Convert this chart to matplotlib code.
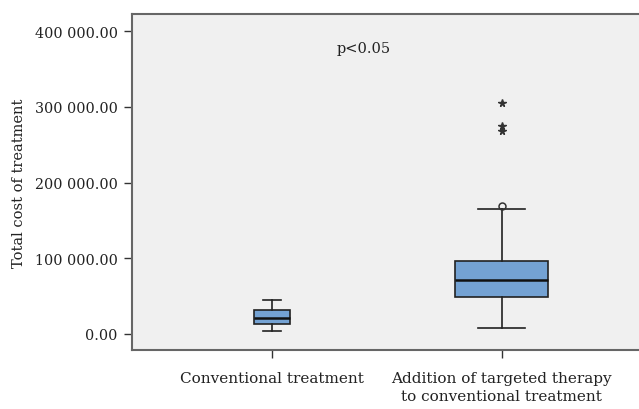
import matplotlib
matplotlib.use("Agg")
import matplotlib.pyplot as plt

# group labels and box statistics
groups = ["Conventional treatment", "Addition of targeted therapy\nto conventional treatment"]
q1 = [13200, 49200]
median = [21100, 71700]
q3 = [32100, 96000]
whisker_lo = [4400, 7900]
whisker_hi = [44500, 164500]
outliers = [[], [169500]]
extremes = [[], [304800, 275200, 268600]]
box_widths = [0.157, 0.404]

ytick_vals = [0, 100000, 200000, 300000, 400000]
ytick_labels = ["0.00", "100 000.00", "200 000.00", "300 000.00", "400 000.00"]

plt.rcParams["font.family"] = ["DejaVu Serif"]

fig = plt.figure(figsize=(6.39, 4.10), dpi=100)
ax = fig.add_axes([0.2058, 0.1427, 0.7942, 0.8213])
ax.set_facecolor("#f0f0f0")

stats = []
for i in range(len(groups)):
    stats.append({
        "med": median[i], "q1": q1[i], "q3": q3[i],
        "whislo": whisker_lo[i], "whishi": whisker_hi[i],
        "fliers": outliers[i], "label": groups[i],
    })

ax.bxp(stats, positions=[1, 2], widths=box_widths,
       capwidths=[w / 2 for w in box_widths], patch_artist=True,
       boxprops=dict(facecolor="#74a2d3", edgecolor="#222222", linewidth=1.2),
       medianprops=dict(color="#111111", linewidth=1.8),
       whiskerprops=dict(color="#222222", linewidth=1.2),
       capprops=dict(color="#222222", linewidth=1.2),
       flierprops=dict(marker="o", markersize=5, markerfacecolor="none",
                       markeredgecolor="#333333", markeredgewidth=1.1))

for i, vals in enumerate(extremes):
    ax.plot([i + 1] * len(vals), vals, linestyle="none", marker="*",
            markersize=5.5, color="#333333")

ax.set_xlim(0.388, 2.598)
ax.set_ylim(-21800, 423100)
ax.set_yticks(ytick_vals)
ax.set_yticklabels(ytick_labels)
ax.set_xticks([1, 2])
ax.set_xticklabels(groups, linespacing=1.35, fontsize=11)

for side in ["top", "left", "bottom"]:
    ax.spines[side].set_color("#666666")
    ax.spines[side].set_linewidth(1.5)
ax.spines["right"].set_visible(False)

ax.tick_params(axis="both", length=6, width=1, color="#333333", labelcolor="#222222")
ax.tick_params(axis="y", pad=4, labelsize=10.3)
ax.tick_params(axis="x", pad=9)

ax.set_ylabel("Total cost of treatment", fontsize=10.5, color="#222222", labelpad=6)
ax.text(1.4, 378000, "p<0.05", ha="center", va="center", fontsize=10.5, color="#222222")

fig.savefig("out.png", dpi=100)
